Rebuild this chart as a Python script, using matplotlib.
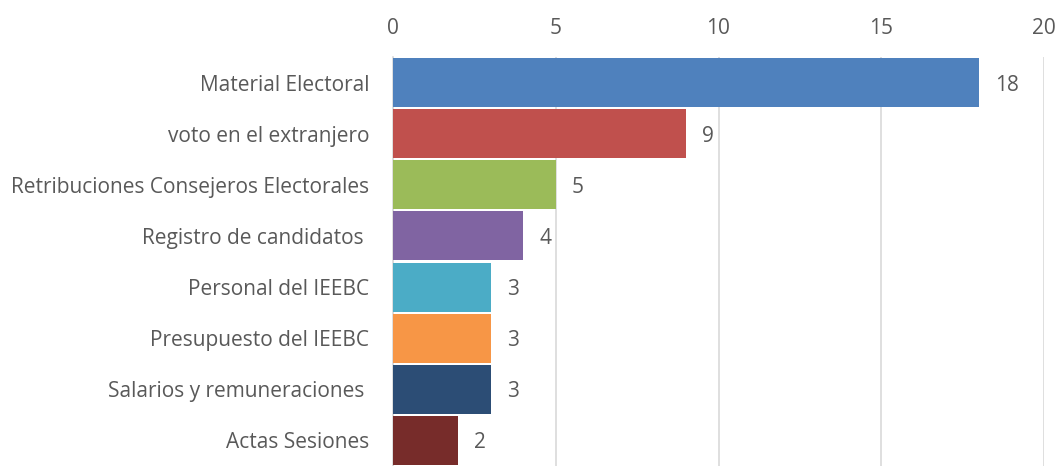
import matplotlib
matplotlib.use("Agg")
import matplotlib.pyplot as plt

categories = ["Material Electoral", "voto en el extranjero", "Retribuciones Consejeros Electorales",
              "Registro de candidatos ", "Personal del IEEBC", "Presupuesto del IEEBC",
              "Salarios y remuneraciones ", "Actas Sesiones"]
values = [18, 9, 5, 4, 3, 3, 3, 2]
colors = ["#4F81BD", "#C0504D", "#9BBB59", "#8064A2", "#4BACC6", "#F79646", "#2C4D75", "#772C2A"]
xticks = [0, 5, 10, 15, 20]

plt.rcParams['font.family'] = ['Open Sans', 'DejaVu Sans']
txt = "#595959"
fs = 15

fig = plt.figure(figsize=(10.6, 4.66), dpi=100)
ax = fig.add_axes([393/1060, 0, 651/1060, 1 - 57/466])
y = list(range(len(categories)))
ax.barh(y, values, height=0.96, color=colors, zorder=3)
ax.set_ylim(len(categories) - 0.5, -0.5)
ax.set_xlim(0, 20)
ax.set_xticks(xticks)
ax.xaxis.tick_top()
ax.tick_params(axis='x', length=0, pad=13, labelsize=fs, labelcolor=txt)
ax.set_yticks(y)
ax.set_yticklabels(categories)
ax.tick_params(axis='y', length=0, pad=17, labelsize=fs, labelcolor=txt)
ax.grid(axis='x', color='#D9D9D9', linewidth=1.2, zorder=0)
for s in ['top', 'right', 'bottom']:
    ax.spines[s].set_visible(False)
ax.spines['left'].set_color('#D9D9D9')
ax.spines['left'].set_linewidth(1.2)
for yi, v in zip(y, values):
    ax.text(v + 0.5, yi + 0.05, str(v), va='center', ha='left', fontsize=fs, color=txt)
fig.savefig("out.png", dpi=100)
